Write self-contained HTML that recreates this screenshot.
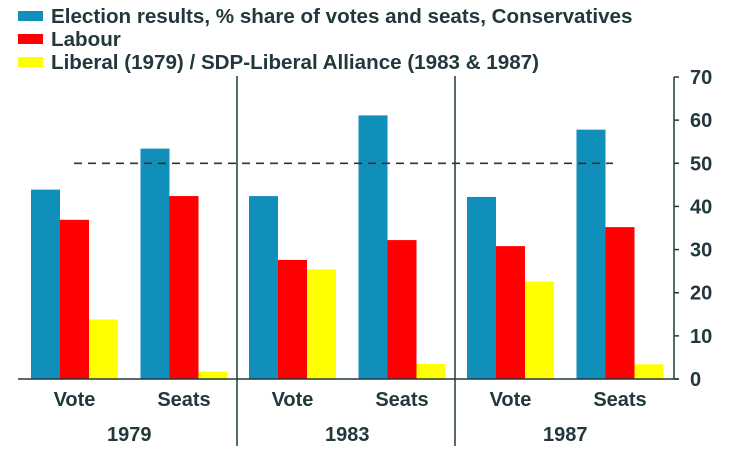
<!DOCTYPE html>
<html><head><meta charset="utf-8"><style>
body{margin:0;background:#fff;}
svg{display:block;font-family:"Liberation Sans",sans-serif;}
text{font-weight:bold;}
</style></head><body>
<svg id="c" width="751" height="453"></svg>
<script>
const years=['1979','1983','1987'];
const cats=['Vote','Seats'];
const seriesNames=['Election results, % share of votes and seats, Conservatives','Labour','Liberal (1979) / SDP-Liberal Alliance (1983 & 1987)'];
const conservative=[43.9,53.4,42.4,61.1,42.2,57.8];
const labour=[36.9,42.4,27.6,32.2,30.8,35.2];
const liberal=[13.8,1.7,25.4,3.5,22.6,3.4];
const yTicks=[0,10,20,30,40,50,60,70];
const colors=['#0f8fba','#ff0000','#ffff00'];
const NS='http://www.w3.org/2000/svg';
const svg=document.getElementById('c');
function y(v){return 379-v*(302/70);}
function cx(g,c){return 74.5+218*g+109.5*c;}
function mk(t,a,p){const e=document.createElementNS(NS,t);for(const k in a)e.setAttribute(k,a[k]);(p||svg).appendChild(e);return e;}
const ink='#22383c';
seriesNames.forEach((n,i)=>{
 const r=mk('rect',{x:18,y:11+i*23,width:25,height:10,fill:colors[i]});
 
 
 const t=mk('text',{x:51,y:23+i*23,'font-size':20.6,fill:ink});
 t.textContent=n;
 
 
});
const series=[conservative,labour,liberal];
const bw=29;
series.forEach((s,si)=>{
 s.forEach((v,i)=>{
  const g=Math.floor(i/2),c=i%2;
  const x=cx(g,c)-43.5+si*bw;
  const r=mk('rect',{x:x,y:y(v),width:bw,height:y(0)-y(v),fill:colors[si]});
  
  
 });
});
const d=mk('line',{x1:74,x2:613,y1:y(50),y2:y(50),stroke:'#333',"stroke-width":1.6,"stroke-dasharray":"8,6"});


const b=mk('line',{x1:18,x2:679,y1:y(0),y2:y(0),stroke:ink,"stroke-width":1.5});


const ax=mk('line',{x1:674,x2:674,y1:y(70),y2:y(0),stroke:ink,"stroke-width":1.5});


yTicks.forEach(v=>{
 mk('line',{x1:674,x2:679,y1:y(v),y2:y(v),stroke:ink,"stroke-width":1.5});
 const t=mk('text',{x:690,y:y(v)+7,'font-size':20,fill:ink});
 t.textContent=v;
 
 
});
[237,455].forEach(x=>{
 const l=mk('line',{x1:x,x2:x,y1:76,y2:446,stroke:ink,"stroke-width":1.5});
 
 
});
years.forEach((yr,g)=>{
 cats.forEach((c,ci)=>{
  const t=mk('text',{x:cx(g,ci),y:406,'font-size':20,fill:ink,'text-anchor':'middle'});
  t.textContent=c;
  
  
 });
 const t=mk('text',{x:(cx(g,0)+cx(g,1))/2,y:441,'font-size':20,fill:ink,'text-anchor':'middle'});
 t.textContent=yr;
 
 
});
</script>
</body></html>
